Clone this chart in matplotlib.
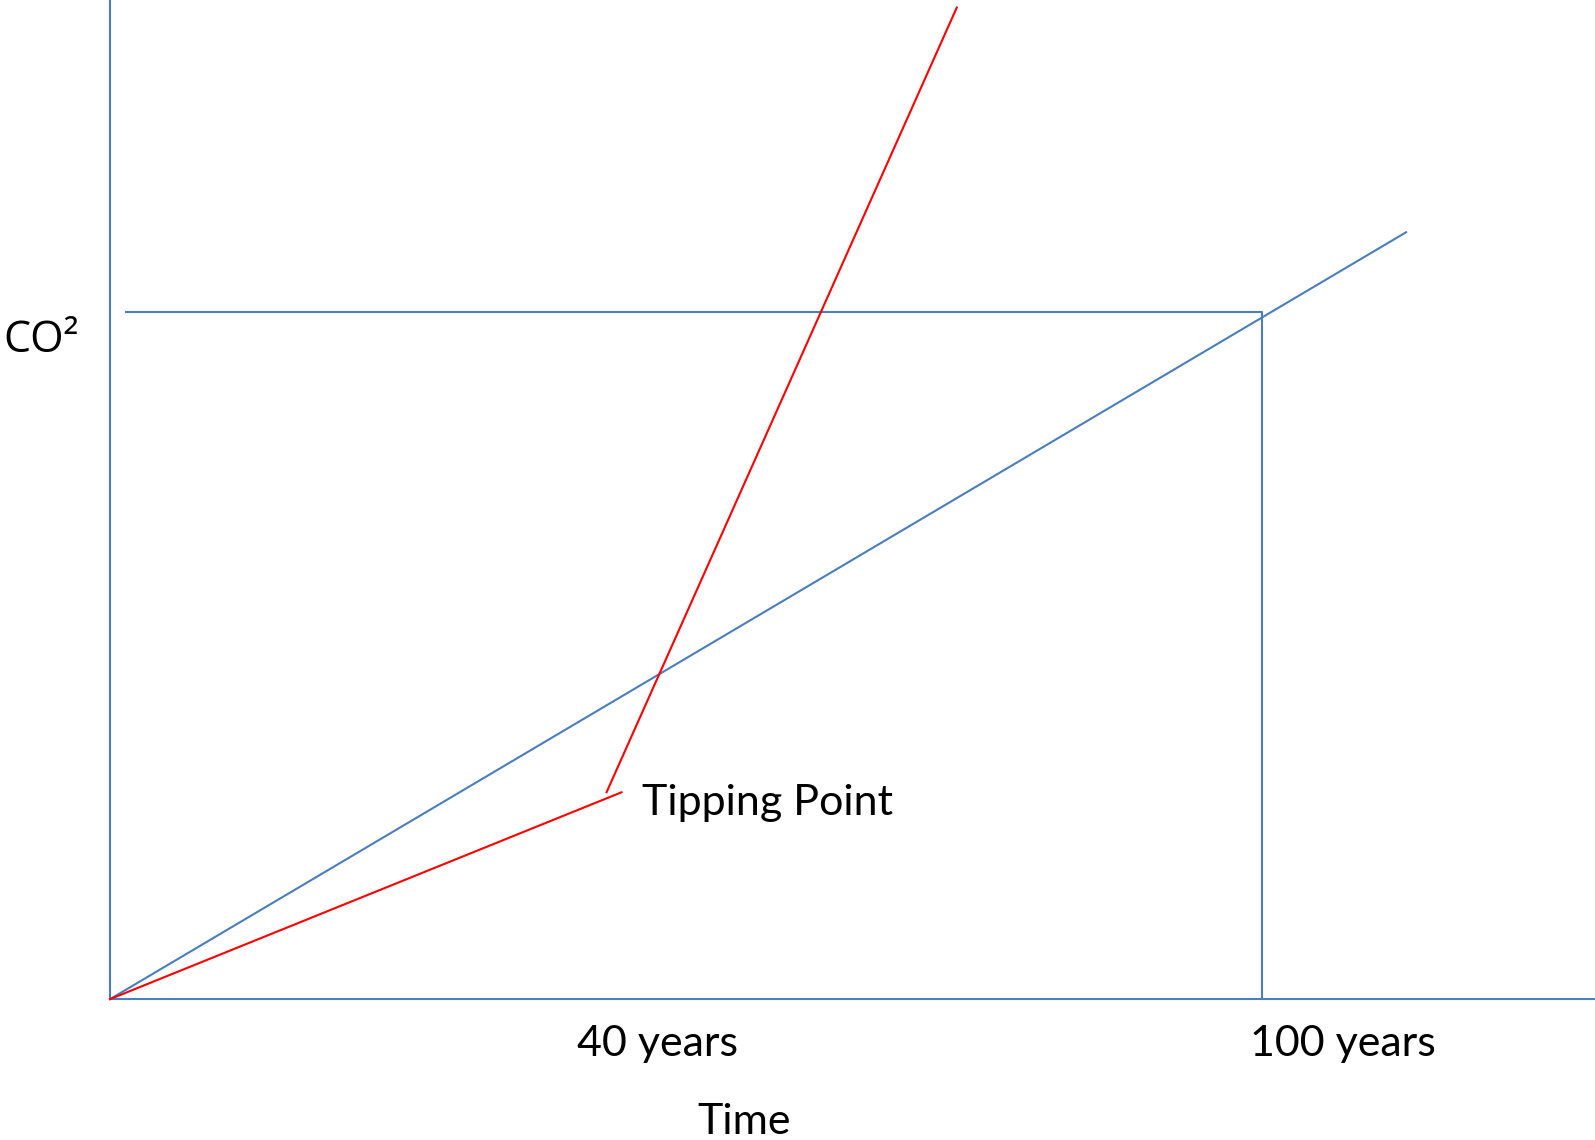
import matplotlib
matplotlib.use("Agg")
import matplotlib.pyplot as plt

# sketch of CO2 over time, years on x, CO2 level (arbitrary units) on y
steady_x = [0, 112.5]
steady_y = [0, 111.6]

slow_x = [0, 44.4]
slow_y = [0, 30.1]
fast_x = [43.1, 73.5]
fast_y = [30.1, 144.3]

level_x = [1.4, 100, 100]
level_y = [100, 100, 0]

labels = ["40 years", "100 years"]
label_x = [47.5, 107.0]

blue = "#4a7ebf"
red = "#ff0000"

plt.rcParams['font.family'] = ['Lato', 'DejaVu Sans']

fig = plt.figure(figsize=(15.95, 11.40), dpi=100)
ax = fig.add_axes([0, 0, 1, 1])
ax.set_xlim(-9.55, 128.9)
ax.set_ylim(-20.5, 145.4)
ax.axis("off")

# axes drawn as plain lines like the original drawing
ax.plot([0, 0], [0, 146], color=blue, lw=1.5, solid_capstyle="butt")
ax.plot([0, 130], [0, 0], color=blue, lw=1.5, solid_capstyle="butt")

ax.plot(steady_x, steady_y, color=blue, lw=1.5)
ax.plot(level_x, level_y, color=blue, lw=1.5)
ax.plot(slow_x, slow_y, color=red, lw=1.5)
ax.plot(fast_x, fast_y, color=red, lw=1.5)

fs = 31
ax.text(46.2, 26.8, "Tipping Point", fontsize=fs, ha="left", va="baseline")
for lab, x in zip(labels, label_x):
    ax.text(x, -8.3, lab, fontsize=fs, ha="center", va="baseline")
ax.text(55.0, -19.6, "Time", fontsize=fs, ha="center", va="baseline")
ax.text(-9.29, 94.2, "CO²", fontsize=fs, ha="left", va="baseline",
        family=['Open Sans', 'DejaVu Sans'])

fig.savefig("out.png", dpi=100)
